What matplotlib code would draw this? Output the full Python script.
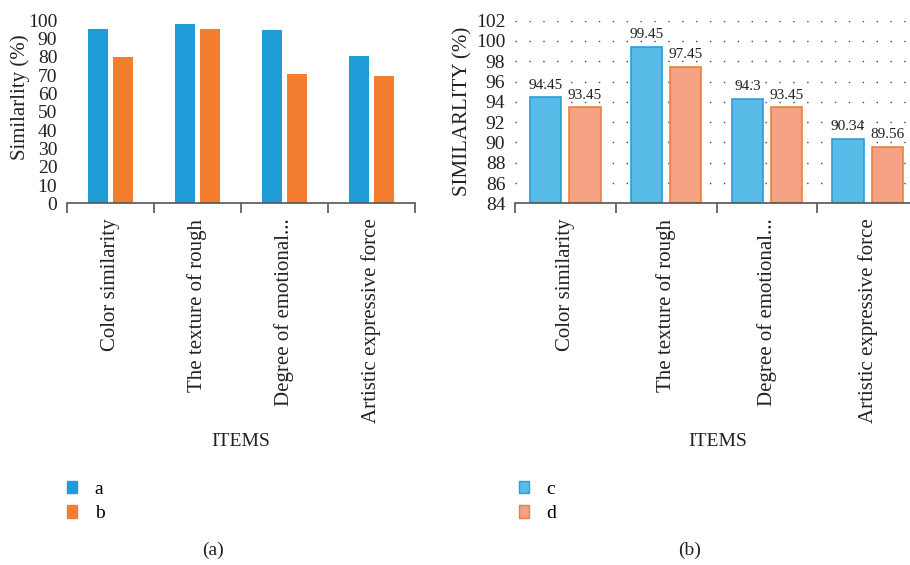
import numpy as np
import matplotlib.pyplot as plt
from matplotlib.patches import Patch

plt.rcParams['font.family'] = ['Liberation Serif', 'DejaVu Serif']

# Data
items = ["Color similarity", "The texture of rough",
         "Degree of emotional...", "Artistic expressive force"]
a_vals = [95, 98, 94.5, 80.5]
b_vals = [80, 95.5, 70.5, 69.5]
c_vals = [94.45, 99.45, 94.3, 90.34]
d_vals = [93.45, 97.45, 93.45, 89.56]

W, H = 910, 565
fig = plt.figure(figsize=(W / 100, H / 100), dpi=100)


def px_axes(x0, x1, ytop, ybot):
    return fig.add_axes([x0 / W, 1 - ybot / H, (x1 - x0) / W, (ybot - ytop) / H])


def style_axes(ax):
    for s in ["top", "right", "left"]:
        ax.spines[s].set_visible(False)
    ax.spines["bottom"].set_color("#555555")
    ax.spines["bottom"].set_linewidth(1.2)
    n = len(items)
    ax.set_xlim(-0.5, n - 0.5)
    ax.set_xticks(range(n))
    ax.set_xticklabels(items, rotation=90, va="top", ha="center", fontsize=15,
                       color="#222222")
    ax.tick_params(axis="x", which="major", length=0, pad=11)
    ax.set_xticks(np.arange(-0.5, n, 1.0), minor=True)
    ax.tick_params(axis="x", which="minor", length=7, width=1.2, color="#555555")
    ax.tick_params(axis="y", length=0, pad=7, labelsize=14, labelcolor="#222222")


x = np.arange(len(items))

# (a)
ax1 = px_axes(67, 415, 20.3, 203.3)
ax1.bar(x - 0.146, a_vals, width=0.23, color="#1f9bd7")
ax1.bar(x + 0.146, b_vals, width=0.23, color="#f47d30")
ax1.set_ylim(0, 100)
ax1.set_yticks(range(0, 101, 10))
style_axes(ax1)
fig.text(20 / W, 1 - 97 / H, "Similarlity (%)", rotation=90, ha="center",
         va="center", fontsize=15, color="#222222")
fig.text(241 / W, 1 - 442 / H, "ITEMS", ha="center", va="center", fontsize=14,
         color="#222222")
fig.legend(handles=[Patch(color="#1f9bd7", label="a"),
                    Patch(color="#f47d30", label="b")],
           loc="upper left", bbox_to_anchor=(49 / W, 1 - 463 / H),
           frameon=False, fontsize=14, handlelength=0.55, handleheight=0.6,
           handletextpad=0.9, labelspacing=0.4)
fig.text(213 / W, 1 - 550 / H, "(a)", ha="center", va="center", fontsize=14,
         color="#222222")

# (b)
ax2 = px_axes(515, 918, 20.7, 203.3)
ax2.set_axisbelow(True)
ax2.yaxis.grid(True, linestyle=(0, (1, 9)), color="#444444", linewidth=1)
ax2.bar(x - 0.194, np.array(c_vals) - 84, bottom=84, width=0.31,
        color="#58bbe8", edgecolor="#2a9fd8", linewidth=1.2)
ax2.bar(x + 0.194, np.array(d_vals) - 84, bottom=84, width=0.31,
        color="#f4a283", edgecolor="#f07f3c", linewidth=1.2)
for i in range(len(items)):
    ax2.annotate(f"{c_vals[i]:g}", (x[i] - 0.194, c_vals[i]), xytext=(0, 4),
                 textcoords="offset points", ha="center", va="bottom",
                 fontsize=11, color="#222222")
    ax2.annotate(f"{d_vals[i]:g}", (x[i] + 0.194, d_vals[i]), xytext=(0, 4),
                 textcoords="offset points", ha="center", va="bottom",
                 fontsize=11, color="#222222")
ax2.set_ylim(84, 102)
ax2.set_yticks(range(84, 103, 2))
style_axes(ax2)
fig.text(463 / W, 1 - 111 / H, "SIMILARLITY (%)", rotation=90, ha="center",
         va="center", fontsize=15, color="#222222")
fig.text(718 / W, 1 - 442 / H, "ITEMS", ha="center", va="center", fontsize=14,
         color="#222222")
fig.legend(handles=[Patch(facecolor="#58bbe8", edgecolor="#2a9fd8", label="c"),
                    Patch(facecolor="#f4a283", edgecolor="#f07f3c", label="d")],
           loc="upper left", bbox_to_anchor=(501 / W, 1 - 463 / H),
           frameon=False, fontsize=14, handlelength=0.55, handleheight=0.6,
           handletextpad=0.9, labelspacing=0.4)
fig.text(690 / W, 1 - 550 / H, "(b)", ha="center", va="center", fontsize=14,
         color="#222222")

fig.savefig("out.png", dpi=100)
